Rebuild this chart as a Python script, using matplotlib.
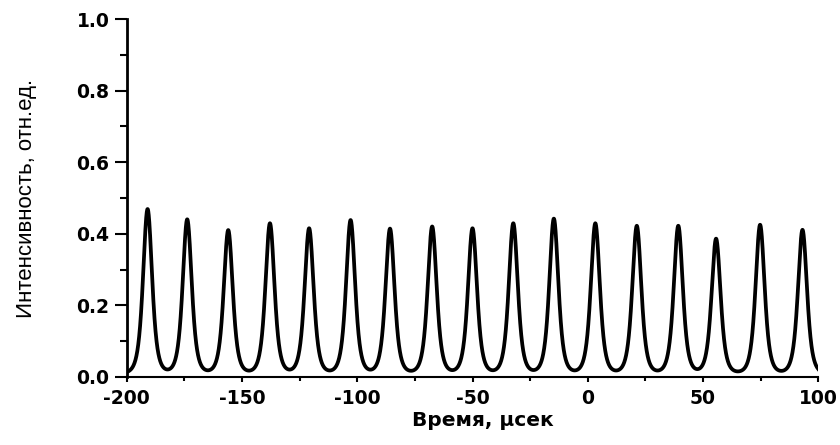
#! /usr/bin/env python3

import numpy as np
import matplotlib.pyplot as plt

plt.rcParams['axes.unicode_minus'] = False

# peak positions (usec) and peak intensities of the pulse train
centers = [-191.0, -173.8, -156.0, -137.9, -120.9, -102.9, -85.8, -67.5, -50.0,
           -32.3, -14.7, 3.3, 21.3, 39.3, 55.7, 74.8, 93.2]
heights = [0.469, 0.440, 0.410, 0.429, 0.415, 0.438, 0.414, 0.420, 0.415,
           0.429, 0.442, 0.429, 0.422, 0.422, 0.386, 0.425, 0.411]
hwhm = 2.3        # half width at half maximum, usec
shape_m = 2.5     # Pearson VII exponent
baseline = 0.008

# build the trace as a sum of Pearson VII peaks on a small baseline
t = np.linspace(-200, 100, 6001)
k = 2**(1/shape_m) - 1
signal = np.full_like(t, baseline)
for c, h in zip(centers, heights):
    signal += (h - baseline)/(1 + k*((t - c)/hwhm)**2)**shape_m

fig = plt.figure(figsize=(8.4, 4.45), dpi=100)
ax = fig.add_axes([0.151, 0.153, 0.823, 0.804])
ax.plot(t, signal, 'k-', lw=2.7)

ax.set_xlim(-200, 100)
ax.set_ylim(0.0, 1.0)
ax.set_xticks(np.arange(-200, 101, 50))
ax.set_xticks(np.arange(-175, 100, 50), minor=True)
ax.set_yticks(np.arange(0, 1.01, 0.2))
ax.set_yticks(np.arange(0.1, 1.0, 0.2), minor=True)
ax.set_yticklabels(['%.1f' % v for v in np.arange(0, 1.01, 0.2)])

for s in ['top', 'right']:
    ax.spines[s].set_visible(False)
ax.spines['left'].set_linewidth(2.0)
ax.spines['bottom'].set_linewidth(1.5)

ax.tick_params(axis='y', which='major', direction='out', length=8.5, width=1.5, pad=4)
ax.tick_params(axis='y', which='minor', direction='out', length=4.8, width=1.5)
ax.tick_params(axis='x', which='major', direction='out', length=3.8, width=1.5, pad=5)
ax.tick_params(axis='x', which='minor', direction='out', length=3.2, width=1.5)

for lab in ax.get_xticklabels() + ax.get_yticklabels():
    lab.set_family('DejaVu Sans')
    lab.set_weight('bold')
    lab.set_fontsize(13.5)

ax.set_xlabel('Время, μсек', family='DejaVu Sans', fontweight='bold',
              fontsize=14.5, labelpad=2)
ax.xaxis.set_label_coords(0.515, -0.095)
ax.set_ylabel('Интенсивность, отн.ед.', family='Liberation Sans',
              fontsize=16)
ax.yaxis.set_label_coords(-0.13, 0.5)

fig.savefig('out.png', dpi=100)
